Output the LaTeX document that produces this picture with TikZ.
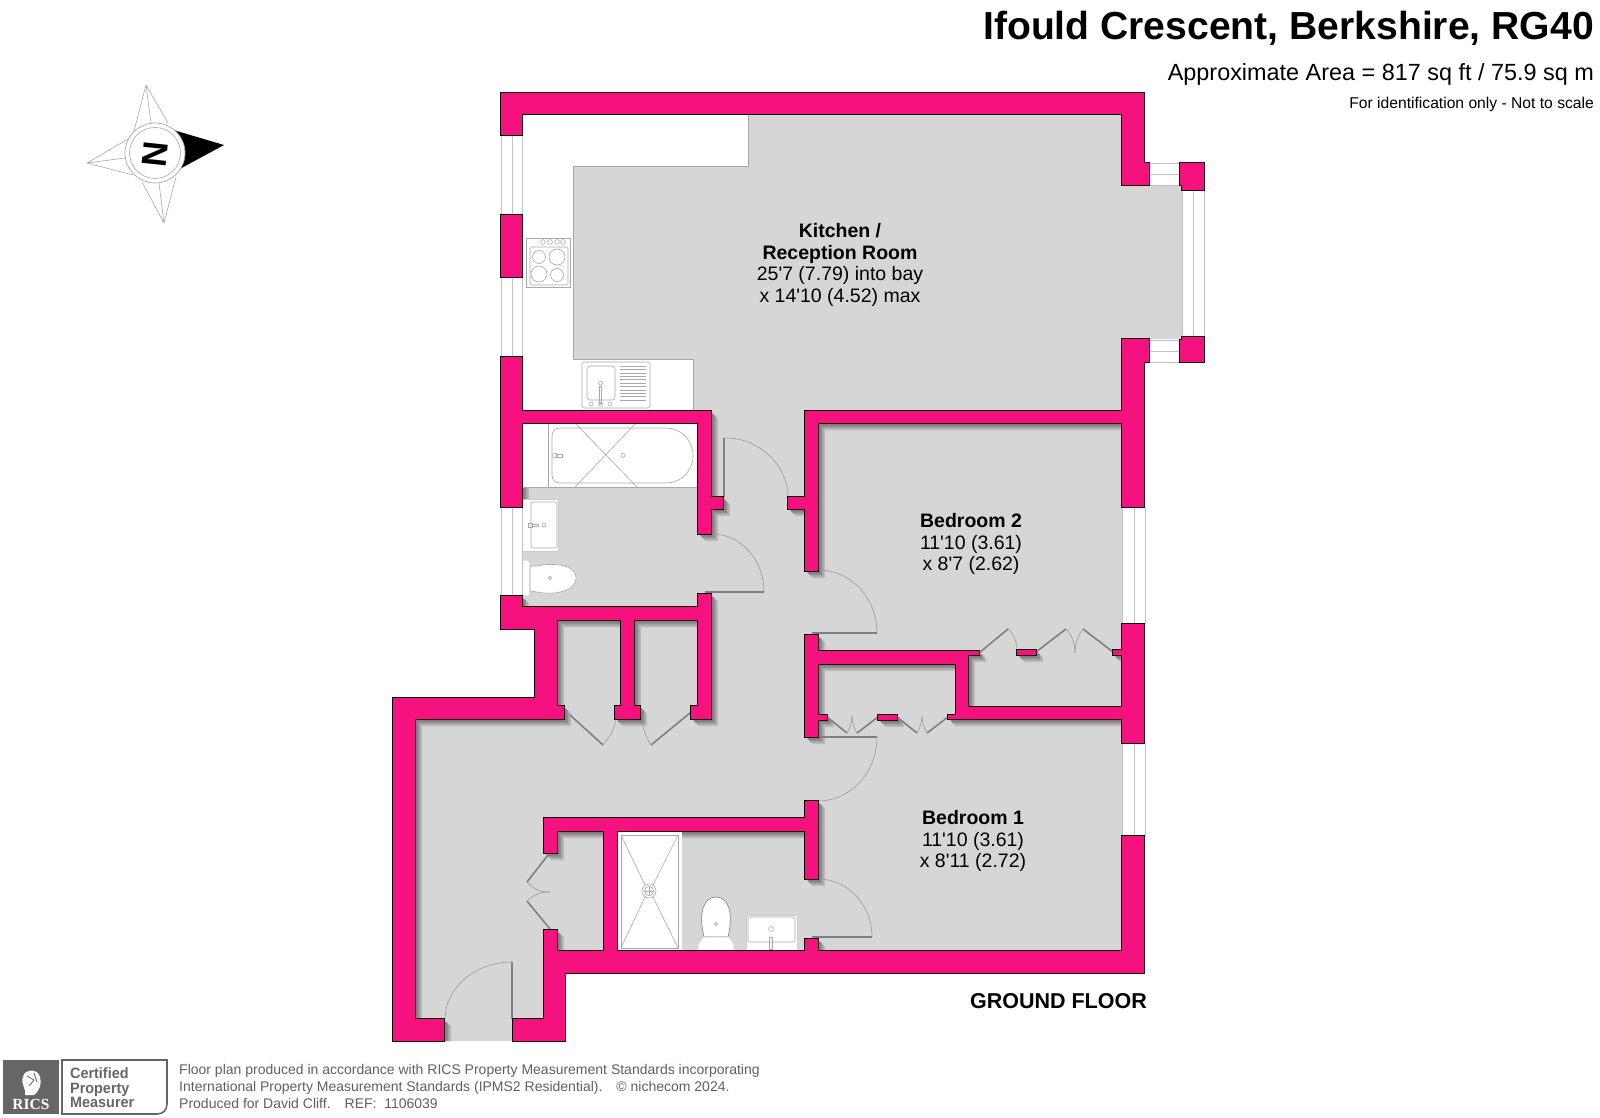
\documentclass[tikz,border=0pt]{standalone}
\usepackage{fontspec}
\setmainfont{Liberation Sans}
\newfontfamily\ricsfont{Liberation Serif}
\definecolor{wallpink}{HTML}{F5127F}
\definecolor{floorgray}{HTML}{D6D6D6}
\definecolor{fixgray}{HTML}{A8A8A8}
\definecolor{notegray}{HTML}{5F5F5F}
\definecolor{logogray}{HTML}{666666}
\newcommand{\ft}{\textquotesingle}
% floor areas and wall pieces, in pixels of the plan
\newcommand{\floorrects}{(510,114) rectangle (1130,620)
  (545,620) rectangle (1130,960)
  (405,710) rectangle (550,1041)
  (1122,185) rectangle (1182,339)}
\newcommand{\wallrects}{(501,93) rectangle (1144,114)
  (501,114) rectangle (522,135)
  (501,215) rectangle (522,277)
  (501,357) rectangle (522,507)
  (1122,114) rectangle (1144,185)
  (1144,163) rectangle (1149,185)
  (1180,163) rectangle (1204,185)
  (1182,185) rectangle (1204,190)
  (1182,337) rectangle (1204,340)
  (1180,340) rectangle (1204,362)
  (1122,339) rectangle (1144,507)
  (1144,339) rectangle (1149,362)
  (1122,624) rectangle (1144,743)
  (1122,836) rectangle (1144,973)
  (805,411) rectangle (1122,423)
  (805,423) rectangle (818,571)
  (788,497) rectangle (805,509)
  (805,635) rectangle (818,737)
  (818,651) rectangle (968,664)
  (968,651) rectangle (979,655)
  (956,664) rectangle (968,719)
  (968,707) rectangle (1122,719)
  (948,715) rectangle (956,719)
  (818,715) rectangle (827,720)
  (878,715) rectangle (897,720)
  (1017,650) rectangle (1036,655)
  (1113,650) rectangle (1122,655)
  (522,411) rectangle (711,423)
  (698,423) rectangle (711,534)
  (711,497) rectangle (723,509)
  (698,594) rectangle (711,719)
  (691,706) rectangle (698,719)
  (501,596) rectangle (522,629)
  (522,607) rectangle (698,620)
  (522,620) rectangle (535,629)
  (535,620) rectangle (557,719)
  (557,706) rectangle (564,719)
  (621,620) rectangle (634,706)
  (615,706) rectangle (640,719)
  (393,698) rectangle (535,719)
  (393,719) rectangle (415,1041)
  (415,1019) rectangle (444,1041)
  (513,1019) rectangle (544,1041)
  (544,951) rectangle (565,1041)
  (544,930) rectangle (557,951)
  (565,951) rectangle (1122,973)
  (544,818) rectangle (805,831)
  (544,831) rectangle (557,853)
  (604,831) rectangle (617,951)
  (805,801) rectangle (818,879)
  (805,939) rectangle (818,951)}
\tikzset{
  wallline/.style={draw=black, line width=1.2pt},
  windowline/.style={draw=fixgray!70, line width=0.7pt},
  fixture/.style={draw=fixgray, line width=0.6pt},
  doorleaf/.style={draw=gray, line width=1.6pt},
  doorswing/.style={draw=gray!80, line width=0.6pt},
  roomlabel/.style={align=center, font=\fontsize{19.5}{21.6}\selectfont},
  notetext/.style={anchor=base west, inner sep=0pt, text=notegray, font=\fontsize{14}{14}\selectfont},
  certtext/.style={anchor=base west, inner sep=0pt, xscale=.96, text=logogray, font=\fontsize{15}{15}\selectfont\bfseries}
}
\begin{document}
\begin{tikzpicture}[x=1pt, y=-1pt]
  \useasboundingbox (0,0) rectangle (1600,1118);
  \fill [floorgray] \floorrects;
  % shadows of the walls, on the floor only
  \begin{scope}
    \clip \floorrects;
    \fill [gray!30!floorgray, shift={(7,7)}] \wallrects;
    \fill [gray!55!floorgray, shift={(5.5,5.5)}] \wallrects;
    \fill [gray!80!floorgray, shift={(4,4)}] \wallrects;
    \fill [gray, shift={(2.5,2.5)}] \wallrects;
  \end{scope}
  \fill [floorgray] (522,114) rectangle (1122,405);
  \fill [floorgray] (1122,185) rectangle (1182,339);
  % worktop
  \filldraw [white, draw=fixgray, line width=0.7pt] %
  (522,114) -- (748,114) -- (748,166) -- (573,166) -- (573,359) -- (693,359) -- (693,411) -- (522,411) -- cycle;
  % hob
  \draw [fixture] (526,238) rectangle (570,287);
  \draw [fixture, rounded corners=1.5pt] (530,247) rectangle (568,285);
  \foreach \hx in {543,550,557,563} {
    \draw [fixture] (\hx,242) circle [radius=2.4];
  }
  \draw [fixture] (539,257) circle [radius=6.5];
  \draw [fixture] (557,257) circle [radius=8];
  \draw [fixture] (539,274) circle [radius=8];
  \draw [fixture] (557,275) circle [radius=6.5];
  % sink
  \draw [fixture, rounded corners=1.5pt] (582,362) rectangle (650,408);
  \draw [fixture, rounded corners=3pt] (587,366) rectangle (615,400);
  \foreach \sy in {366,369.4,...,401} {
    \draw [fixture] (620,\sy) -- (646,\sy);
  }
  \draw [fixture] (600.5,383) circle [radius=2];
  \draw [fixture] (599.5,386) rectangle (601.5,403);
  \draw [fixture] (591,404) circle [radius=2];
  \draw [fixture] (600.5,404) circle [radius=2];
  \draw [fixture] (610,404) circle [radius=2];
  % bath
  \fill [white] (522,423) rectangle (698,487);
  \draw [fixture] (522,487) -- (698,487);
  \draw [fixture] (548,423) -- (548,487);
  \draw [fixture] (560,428) -- (666,428) .. controls (681,428) and (693,440) .. (693,455.5) %
  .. controls (693,471) and (681,483) .. (666,483) -- (560,483) %
  .. controls (555,483) and (552,480) .. (552,475) -- (552,436) .. controls (552,431) and (555,428) .. (560,428);
  \draw [fixture] (575,423) -- (637,487);
  \draw [fixture] (636,423) -- (575,487);
  \draw [fixture] (623,455.5) circle [radius=2];
  \draw [fixture] (555,455.5) circle [radius=2.4];
  \draw [fixture] (556,454) rectangle (562,457);
  % bathroom basin and wc
  \filldraw [white, draw=fixgray!60, line width=0.6pt] (522,499) rectangle (558,551);
  \draw [fixture, rounded corners=2pt] (531,502) rectangle (557,548);
  \draw [fixture] (528,523) rectangle (532,527);
  \draw [fixture] (532,524) rectangle (538,526);
  \draw [fixture] (544,525) circle [radius=2];
  \filldraw [white, draw=fixgray!60, line width=0.6pt, rounded corners=3pt] (522,560) rectangle (530,596);
  \filldraw [white, draw=fixgray, line width=0.6pt] (530,566) -- (537,566) %
  .. controls (550,563) and (576,563) .. (576,578) .. controls (576,593) and (550,595) .. (537,592) -- (530,591) -- cycle;
  \draw [fixture] (550,578) circle [radius=1.6];
  % shower
  \fill [white] (617,831) rectangle (682,951);
  \draw [fixture] (621,835) rectangle (678,948);
  \draw [fixture] (621,835) -- (645,885);
  \draw [fixture] (678,835) -- (653,885);
  \draw [fixture] (621,948) -- (645,897);
  \draw [fixture] (678,948) -- (653,897);
  \draw [fixture] (649,891) circle [radius=7];
  \draw [fixture] (649,891) circle [radius=4.6];
  \draw [fixture] (649,886.4) -- (649,895.6);
  \draw [fixture] (644.4,891) -- (653.6,891);
  % ensuite wc and basin
  \filldraw [white, draw=gray, line width=0.6pt] (704,937) .. controls (698,912) and (704,897) .. (716,897) %
  .. controls (728,897) and (734,912) .. (728,937) -- cycle;
  \draw [fixture] (716,924) circle [radius=1.6];
  \filldraw [white, draw=fixgray!60, line width=0.6pt] (703,937) -- (729,937) -- (734,944) -- (734,951) -- (698,951) -- (698,944) -- cycle;
  \filldraw [white, draw=fixgray!60, line width=0.6pt] (746,915) rectangle (797,951);
  \draw [fixture, rounded corners=2pt] (748,917) rectangle (795,942);
  \draw [fixture] (771,929) circle [radius=2.4];
  \draw [fixture] (769.5,937) rectangle (772.5,949);
  % windows
  \fill [white] (501,135) rectangle (522,215) (501,277) rectangle (522,357) (501,507) rectangle (522,596);
  \fill [white] (1122,507) rectangle (1144,624) (1122,743) rectangle (1144,836);
  \fill [white] (1149,163) rectangle (1180,185) (1149,340) rectangle (1180,362) (1182,190) rectangle (1204,337);
  \foreach \wx in {501,512,522} {
    \draw [windowline] (\wx,135) -- (\wx,215);
    \draw [windowline] (\wx,277) -- (\wx,357);
    \draw [windowline] (\wx,507) -- (\wx,596);
  }
  \foreach \wx in {1122,1134,1145} {
    \draw [windowline] (\wx,507) -- (\wx,624);
    \draw [windowline] (\wx,743) -- (\wx,836);
  }
  \foreach \wx in {1182,1193,1204} {
    \draw [windowline] (\wx,190) -- (\wx,337);
  }
  \foreach \wy in {163,174,185} {
    \draw [windowline] (1149,\wy) -- (1180,\wy);
  }
  \foreach \wy in {340,351,362} {
    \draw [windowline] (1149,\wy) -- (1180,\wy);
  }
  % doors
  \draw [doorleaf] (724,438) -- (724,497);
  \draw [doorswing] (726,438) .. controls (760,438) and (788,466) .. (788,497);
  \draw [doorswing] (712,534) .. controls (741,534) and (764,560) .. (764,592);
  \draw [doorleaf] (705,592) -- (764,592);
  \draw [doorswing] (818,570) .. controls (851,570) and (877,598) .. (877,633);
  \draw [doorleaf] (812,633) -- (877,633);
  \draw [doorleaf] (818,737) -- (877,737);
  \draw [doorswing] (877,737) .. controls (877,772) and (851,801) .. (818,801);
  \draw [doorswing] (818,879) .. controls (848,879) and (872,905) .. (872,937);
  \draw [doorleaf] (812,937) -- (872,937);
  \draw [doorleaf] (512,962) -- (512,1019);
  \draw [doorswing] (512,962) .. controls (475,962) and (445,988) .. (445,1019);
  % folding doors
  \draw [doorleaf] (548,855) -- (527,882);
  \draw [doorleaf] (527,901) -- (550,929);
  \draw [doorswing] (527,882) .. controls (535,890) and (540,892) .. (550,892);
  \draw [doorswing] (527,901) .. controls (535,894) and (540,892) .. (550,892);
  \draw [doorleaf] (570,715) -- (603,745);
  \draw [doorswing] (603,745) .. controls (609,738) and (614,730) .. (616,720);
  \draw [doorleaf] (690,713) -- (651,745);
  \draw [doorswing] (651,745) .. controls (647,739) and (643,730) .. (642,720);
  \draw [doorleaf] (827,717) -- (847,733);
  \draw [doorswing] (847,733) .. controls (850,728) and (852,722) .. (852,716);
  \draw [doorleaf] (878,717) -- (857,733);
  \draw [doorswing] (857,733) .. controls (854,728) and (852,722) .. (852,716);
  \draw [doorleaf] (897,717) -- (917,733);
  \draw [doorswing] (917,733) .. controls (920,728) and (922,722) .. (922,716);
  \draw [doorleaf] (948,717) -- (927,733);
  \draw [doorswing] (927,733) .. controls (924,728) and (922,722) .. (922,716);
  \draw [doorleaf] (979,653) -- (1008,629);
  \draw [doorswing] (1008,629) .. controls (1014,634) and (1017,642) .. (1017,651);
  \draw [doorleaf] (1036,652) -- (1066,629);
  \draw [doorswing] (1066,629) .. controls (1071,634) and (1075,642) .. (1075,653);
  \draw [doorleaf] (1113,652) -- (1083,629);
  \draw [doorswing] (1083,629) .. controls (1079,634) and (1075,642) .. (1075,653);
  % walls
  \draw [wallline] \wallrects;
  \fill [wallpink] \wallrects;
  % room labels
  \node [roomlabel] (kitchenlabel) at (840,265) {\textbf{Kitchen /}\\ \textbf{Reception Room}\\ 25\ft7 (7.79) into bay\\ x 14\ft10 (4.52) max};
  \node [roomlabel] (bedtwolabel) at (971,544) {\textbf{Bedroom 2}\\ 11\ft10 (3.61)\\ x 8\ft7 (2.62)};
  \node [roomlabel] (bedonelabel) at (973,841) {\textbf{Bedroom 1}\\ 11\ft10 (3.61)\\ x 8\ft11 (2.72)};
  \node [anchor=base east, inner sep=0pt, font=\fontsize{21.5}{22}\selectfont\bfseries] (floorlabel) at (1147,1008) {GROUND FLOOR};
  % heading
  \node [anchor=base east, inner sep=0pt, font=\fontsize{39.1}{40}\selectfont\bfseries] (titlelabel) at (1594,40) {Ifould Crescent, Berkshire, RG40};
  \node [anchor=base east, inner sep=0pt, font=\fontsize{23.4}{24}\selectfont] (arealabel) at (1594,81) {Approximate Area = 817 sq ft / 75.9 sq m};
  \node [anchor=base east, inner sep=0pt, font=\fontsize{15.65}{16}\selectfont] (scalelabel) at (1594,109) {For identification only - Not to scale};
  % compass
  \draw [fixture] (146,85) -- (134,131) (146,85) -- (168,123) (146,85) -- (151,123);
  \draw [fixture] (87,163) -- (128,139) (87,163) -- (133,175) (87,163) -- (125,158);
  \draw [fixture] (164,223) -- (142,182) (164,223) -- (176,177) (164,223) -- (159,183);
  \fill [black] (170,129) -- (224,145) -- (176,171) -- cycle;
  \filldraw [white, draw=fixgray, line width=0.7pt] (155,153) circle [radius=30];
  \draw [fixture] (155,153) circle [radius=25.5];
  \node [rotate=-96, font=\fontsize{35}{36}\selectfont\bfseries] (northlabel) at (155.5,154.5) {N};
  % certified mark
  \fill [logogray] (3,1060) rectangle (59,1114);
  \draw [logogray, line width=1.6pt] (62,1060) -- (167,1060) -- (167,1104) .. controls (167,1110) and (163,1114) .. (157,1114) -- (62,1114) -- cycle;
  \fill [white] (23,1077) .. controls (24,1069) and (38,1068) .. (40,1077) .. controls (42,1084) and (40,1090) .. (34,1095) -- (25,1095) .. controls (27,1089) and (20,1084) .. (23,1077);
  \draw [logogray, line width=0.8pt] (27,1076) -- (34,1080) -- (29,1086) (34,1073) -- (37,1082);
  \node [anchor=base, text=white, font=\ricsfont\fontsize{15.5}{16}\selectfont\bfseries] (ricslabel) at (31,1109) {RICS};
  \node [certtext] (certone) at (70,1078) {Certified};
  \node [certtext] (certtwo) at (70,1093) {Property};
  \node [certtext] (certthree) at (70,1107) {Measurer};
  % footnote
  \node [notetext] (noteone) at (179,1074) {Floor plan produced in accordance with RICS Property Measurement Standards incorporating};
  \node [notetext] (notetwo) at (179,1091) {International Property Measurement Standards (IPMS2 Residential).\quad© nichecom 2024.};
  \node [notetext] (notethree) at (179,1108) {Produced for David Cliff.\quad REF:\ \ 1106039};
\end{tikzpicture}
\end{document}
